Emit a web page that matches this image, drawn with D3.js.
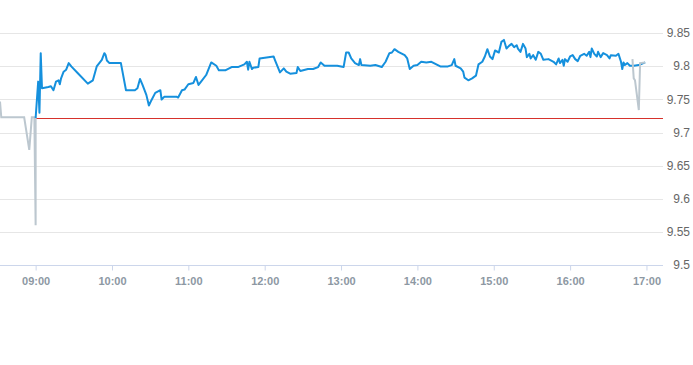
<!DOCTYPE html>
<html>
<head>
<meta charset="utf-8">
<script src="https://cdn.jsdelivr.net/npm/d3@7"></script>
<style>
  body { margin: 0; background: #fff; }
  svg { display: block; font-family: "Liberation Sans", Arial, sans-serif; }
</style>
</head>
<body>
<div class="chart"></div>
<script>
// intraday price, session 09:00 - 17:00
var prevClose = 9.722;
var xDomain = ["08:32", "17:13"];
var yTicks = [9.5, 9.55, 9.6, 9.65, 9.7, 9.75, 9.8, 9.85];
var hourTicks = ["09:00", "10:00", "11:00", "12:00", "13:00", "14:00", "15:00", "16:00", "17:00"];

// pre-market trades (grey)
var preTimes = ["08:32", "08:33", "08:51", "08:55", "08:57", "08:59", "09:00", "09:00"];
var preValues = [9.747, 9.723, 9.723, 9.674, 9.723, 9.723, 9.560, 9.723];

// regular session (blue)
var mainTimes = [
  "09:00", "09:02", "09:03", "09:04", "09:05", "09:10", "09:12", "09:14", "09:16", "09:18",
  "09:19", "09:20", "09:22", "09:24", "09:26", "09:28", "09:33", "09:41", "09:45", "09:48",
  "09:50", "09:52", "09:54", "09:55", "09:56", "09:58", "10:07", "10:11", "10:18", "10:20",
  "10:22", "10:24", "10:27", "10:29", "10:31", "10:34", "10:38", "10:39", "10:41", "10:51",
  "10:52", "10:55", "10:57", "11:00", "11:04", "11:06", "11:08", "11:10", "11:14", "11:18",
  "11:22", "11:24", "11:29", "11:34", "11:39", "11:44", "11:46", "11:47", "11:48", "11:50",
  "11:51", "11:55", "11:56", "12:07", "12:08", "12:12", "12:15", "12:17", "12:20", "12:25",
  "12:26", "12:28", "12:34", "12:38", "12:42", "12:44", "12:47", "12:57", "13:02", "13:04",
  "13:06", "13:08", "13:11", "13:14", "13:15", "13:16", "13:23", "13:27", "13:32", "13:35",
  "13:38", "13:40", "13:42", "13:45", "13:50", "13:52", "13:54", "13:57", "14:00", "14:03",
  "14:07", "14:11", "14:18", "14:24", "14:27", "14:29", "14:30", "14:34", "14:36", "14:37",
  "14:40", "14:43", "14:46", "14:48", "14:51", "14:53", "14:55", "14:57", "14:59", "15:01",
  "15:04", "15:06", "15:08", "15:10", "15:12", "15:14", "15:16", "15:18", "15:19", "15:21",
  "15:23", "15:25", "15:26", "15:28", "15:29", "15:31", "15:33", "15:35", "15:37", "15:39",
  "15:43", "15:47", "15:49", "15:51", "15:52", "15:54", "15:55", "15:56", "15:58", "16:00",
  "16:02", "16:04", "16:06", "16:08", "16:11", "16:13", "16:15", "16:16", "16:17", "16:19",
  "16:21", "16:22", "16:24", "16:26", "16:29", "16:31", "16:32", "16:36", "16:38", "16:40",
  "16:41", "16:42", "16:43", "16:45", "16:47", "16:50", "16:54", "16:59"
];
var mainValues = [
  9.722, 9.777, 9.730, 9.820, 9.767, 9.769, 9.770, 9.764, 9.777, 9.779,
  9.773, 9.782, 9.792, 9.795, 9.805, 9.800, 9.790, 9.774, 9.779, 9.800,
  9.805, 9.810, 9.820, 9.817, 9.809, 9.805, 9.805, 9.764, 9.764, 9.767,
  9.781, 9.772, 9.757, 9.741, 9.749, 9.760, 9.764, 9.750, 9.754, 9.754,
  9.753, 9.764, 9.765, 9.773, 9.775, 9.784, 9.772, 9.777, 9.787, 9.806,
  9.801, 9.794, 9.794, 9.799, 9.799, 9.803, 9.807, 9.795, 9.807, 9.796,
  9.798, 9.799, 9.812, 9.815, 9.810, 9.791, 9.797, 9.792, 9.789, 9.790,
  9.799, 9.793, 9.796, 9.796, 9.799, 9.806, 9.801, 9.801, 9.799, 9.821,
  9.821, 9.812, 9.805, 9.802, 9.811, 9.802, 9.801, 9.802, 9.799, 9.807,
  9.820, 9.821, 9.826, 9.822, 9.817, 9.812, 9.796, 9.801, 9.802, 9.807,
  9.806, 9.807, 9.800, 9.800, 9.802, 9.811, 9.801, 9.797, 9.792, 9.783,
  9.779, 9.782, 9.786, 9.803, 9.807, 9.815, 9.826, 9.815, 9.811, 9.824,
  9.821, 9.837, 9.840, 9.827, 9.831, 9.834, 9.829, 9.832, 9.827, 9.822,
  9.834, 9.827, 9.814, 9.819, 9.812, 9.817, 9.810, 9.822, 9.819, 9.810,
  9.811, 9.807, 9.803, 9.812, 9.805, 9.810, 9.801, 9.811, 9.807, 9.815,
  9.817, 9.811, 9.808, 9.816, 9.819, 9.816, 9.822, 9.814, 9.827, 9.819,
  9.815, 9.822, 9.814, 9.820, 9.817, 9.812, 9.817, 9.816, 9.819, 9.807,
  9.796, 9.806, 9.802, 9.805, 9.801, 9.801, 9.802, 9.806
];

// after-hours trades (grey)
var postTimes = ["16:49", "16:50", "16:51", "16:54", "16:55", "16:59"];
var postValues = [9.811, 9.782, 9.779, 9.734, 9.805, 9.806];

var width = 693, height = 365;
var plot = { left: 0, right: 663, top: 33.3, bottom: 265 };

var parseTime = d3.timeParse("%H:%M");

function toPoints(times, values) {
  var pts = [];
  for (var i = 0; i < times.length; i++) {
    pts.push({ t: parseTime(times[i]), v: values[i] });
  }
  return pts;
}

var preData = toPoints(preTimes, preValues);
var mainData = toPoints(mainTimes, mainValues);
var postData = toPoints(postTimes, postValues);

var x = d3.scaleTime()
  .domain(xDomain.map(parseTime))
  .range([plot.left, plot.right]);

var y = d3.scaleLinear()
  .domain([9.5, 9.85])
  .range([plot.bottom, plot.top]);

var svg = d3.select(".chart").append("svg")
  .attr("width", width)
  .attr("height", height);

// horizontal grid
svg.append("g").selectAll("line")
  .data(yTicks.slice(1))
  .enter()
  .append("line")
  .attr("x1", plot.left)
  .attr("x2", plot.right)
  .attr("y1", function(d) { return Math.round(y(d)) + 0.5; })
  .attr("y2", function(d) { return Math.round(y(d)) + 0.5; })
  .style("stroke", "#e6e6e6")
  .style("stroke-width", 1);

// y labels on the right
svg.append("g").selectAll("text")
  .data(yTicks)
  .enter()
  .append("text")
  .attr("x", 690)
  .attr("y", function(d) { return y(d) + 4; })
  .style("text-anchor", "end")
  .style("font-size", "12px")
  .style("fill", "#666666")
  .text(function(d) { return d3.format("")(+d.toFixed(2)); });

// x axis
var xAxis = d3.axisBottom(x)
  .tickValues(hourTicks.map(parseTime))
  .tickFormat(d3.timeFormat("%H:%M"))
  .tickSize(5)
  .tickSizeOuter(0);

var axisG = svg.append("g")
  .attr("transform", "translate(0," + (Math.round(plot.bottom) + 0.5) + ")")
  .call(xAxis);

axisG.select(".domain")
  .attr("d", "M" + plot.left + ",0H" + plot.right)
  .style("stroke", "#ccd6eb");
axisG.selectAll(".tick line").style("stroke", "#ccd6eb");
axisG.selectAll(".tick text")
  .attr("dy", "0")
  .attr("y", 19)
  .style("font-family", "\"Liberation Sans\", Arial, sans-serif")
  .style("font-size", "11px")
  .style("font-weight", "bold")
  .style("fill", "#8d98a3");

// previous close
var closeY = Math.floor(y(prevClose)) + 0.5;
svg.append("line")
  .attr("x1", x(parseTime("09:00")))
  .attr("x2", plot.right)
  .attr("y1", closeY)
  .attr("y2", closeY)
  .style("stroke", "#d6322c")
  .style("stroke-width", 1);

var line = d3.line()
  .x(function(d) { return x(d.t); })
  .y(function(d) { return y(d.v); });

svg.append("path")
  .datum(preData)
  .attr("d", line)
  .style("fill", "none")
  .style("stroke", "#bcc7cf")
  .style("stroke-width", 2);

svg.append("path")
  .datum(mainData)
  .attr("d", line)
  .style("fill", "none")
  .style("stroke", "#1590dd")
  .style("stroke-width", 2)
  .style("stroke-linejoin", "round");

svg.append("path")
  .datum(postData)
  .attr("d", line)
  .style("fill", "none")
  .style("stroke", "#bcc7cf")
  .style("stroke-width", 2);
</script>
</body>
</html>
